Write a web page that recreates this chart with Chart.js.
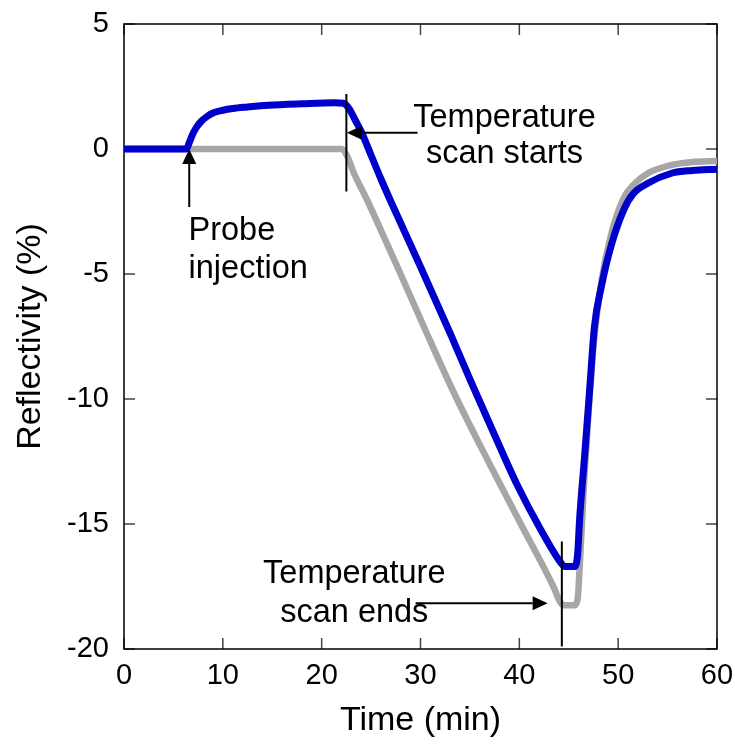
<!DOCTYPE html>
<html>
<head>
<meta charset="utf-8">
<script src="https://cdn.jsdelivr.net/npm/chart.js@4/dist/chart.umd.min.js"></script>
<style>
  html, body { margin: 0; padding: 0; background: #fff; }
</style>
</head>
<body>
<canvas id="chart" width="735" height="744"></canvas>
<script>
// data
const xTicks = [0, 10, 20, 30, 40, 50, 60];
const yTicks = [-20, -15, -10, -5, 0, 5];

// blue trace (with probe)
const blueTime = [0, 6.3, 6.6, 6.9, 7.3, 7.8, 8.4, 9.0, 10, 11, 12.5, 14.6, 18, 21.3, 22.2, 22.8, 23.4, 24.0, 25.0, 26.0, 27.0, 28.0,
  30.0, 33.0, 35.1, 37.45, 39.8, 42.2, 44.2, 44.6, 45.6, 45.9, 46.1, 46.6, 47.1, 47.6, 48.3, 49.3, 50.6, 51.5, 53.0, 55.4, 57.5, 60];
const blueRefl = [0, 0, 0.25, 0.55, 0.85, 1.1, 1.3, 1.44, 1.55, 1.62, 1.68, 1.75, 1.81, 1.85, 1.83, 1.6, 1.15, 0.7, -0.25, -1.2, -2.1, -2.97,
  -4.71, -7.37, -9.3, -11.4, -13.45, -15.25, -16.55, -16.7, -16.7, -16.2, -14.8, -12.3, -9.7, -7.1, -5.5, -3.85, -2.4, -1.8, -1.37, -0.97, -0.86, -0.81];

// grey trace (reference)
const greyTime = [0, 22.0, 22.6, 23.3, 24.6, 26.6, 27.66, 30.5, 33.5, 36.8, 40.15, 43.5, 44.1, 44.5, 45.6, 45.9,
  46.2, 46.6, 47.1, 47.6, 48.3, 49.3, 50.5, 51.5, 53, 55.4, 57.5, 60];
const greyRefl = [0, 0, -0.3, -1.0, -2.04, -3.78, -4.71, -7.25, -9.85, -12.45, -15.0, -17.55, -18.1, -18.25, -18.25, -18.0,
  -16.0, -13.0, -10.0, -7.5, -5.3, -3.4, -2.0, -1.45, -0.97, -0.64, -0.52, -0.48];

// annotations (data coordinates)
const markLines = [
  {x: 22.5, y1: 2.2, y2: -1.7},
  {x: 44.3, y1: -15.7, y2: -19.9}
];
const arrows = [
  {from: [6.6, -2.32], to: [6.6, 0]},
  {from: [29.7, 0.65], to: [22.55, 0.65]},
  {from: [29.5, -18.17], to: [42.86, -18.17]}
];
const notes = [
  {text: ['Probe', 'injection'], x: 6.53, y: [-3.64, -5.16], align: 'left'},
  {text: ['Temperature', 'scan starts'], x: 38.5, y: [0.89, -0.56], align: 'center'},
  {text: ['Temperature', 'scan ends'], x: 23.3, y: [-17.36, -18.91], align: 'center'}
];

const FONT = "'Liberation Sans', Arial, sans-serif";

function toPoints(xs, ys) {
  return xs.map((t, i) => ({x: t, y: ys[i]}));
}

const frameTicks = {
  id: 'frameTicks',
  beforeDatasetsDraw(chart) {
    const {ctx, chartArea: a, scales: {x, y}} = chart;
    ctx.save();
    ctx.strokeStyle = '#444';
    ctx.lineWidth = 1.5;
    ctx.beginPath();
    xTicks.forEach(v => {
      const px = x.getPixelForValue(v);
      ctx.moveTo(px, a.bottom); ctx.lineTo(px, a.bottom - 11);
      ctx.moveTo(px, a.top); ctx.lineTo(px, a.top + 11);
    });
    yTicks.forEach(v => {
      const py = y.getPixelForValue(v);
      ctx.moveTo(a.left, py); ctx.lineTo(a.left + 11, py);
      ctx.moveTo(a.right, py); ctx.lineTo(a.right - 11, py);
    });
    ctx.stroke();
    ctx.strokeStyle = '#000';
    ctx.strokeRect(a.left, a.top, a.right - a.left, a.bottom - a.top);
    ctx.restore();
  },
  afterDatasetsDraw(chart) {
    const {ctx, scales: {x, y}} = chart;
    ctx.save();
    ctx.strokeStyle = '#000';
    ctx.fillStyle = '#000';
    ctx.lineWidth = 2;
    // marker lines
    markLines.forEach(m => {
      const px = x.getPixelForValue(m.x);
      ctx.beginPath();
      ctx.moveTo(px, y.getPixelForValue(m.y1));
      ctx.lineTo(px, y.getPixelForValue(m.y2));
      ctx.stroke();
    });
    // arrows
    arrows.forEach(ar => {
      const x1 = x.getPixelForValue(ar.from[0]), y1 = y.getPixelForValue(ar.from[1]);
      const x2 = x.getPixelForValue(ar.to[0]), y2 = y.getPixelForValue(ar.to[1]);
      const ang = Math.atan2(y2 - y1, x2 - x1);
      const len = 15, half = 7;
      const bx = x2 - len * Math.cos(ang), by = y2 - len * Math.sin(ang);
      ctx.beginPath();
      ctx.moveTo(x1, y1);
      ctx.lineTo(bx, by);
      ctx.stroke();
      ctx.beginPath();
      ctx.moveTo(x2, y2);
      ctx.lineTo(bx + half * Math.sin(ang), by - half * Math.cos(ang));
      ctx.lineTo(bx - half * Math.sin(ang), by + half * Math.cos(ang));
      ctx.closePath();
      ctx.fill();
    });
    // text
    ctx.font = '32.5px ' + FONT;
    ctx.textBaseline = 'alphabetic';
    notes.forEach(n => {
      ctx.textAlign = n.align;
      n.text.forEach((t, i) => {
        ctx.fillText(t, x.getPixelForValue(n.x), y.getPixelForValue(n.y[i]));
      });
    });
    ctx.restore();
  }
};

new Chart(document.getElementById('chart'), {
  type: 'line',
  data: {
    datasets: [
      {
        label: 'Probe',
        data: toPoints(blueTime, blueRefl),
        borderColor: '#0000CC',
        borderWidth: 7,
        cubicInterpolationMode: 'monotone'
      },
      {
        label: 'Reference',
        data: toPoints(greyTime, greyRefl),
        borderColor: '#A6A6A6',
        borderWidth: 6.5,
        cubicInterpolationMode: 'monotone'
      }
    ]
  },
  options: {
    responsive: false,
    animation: false,
    layout: {padding: {top: 24, right: 18, left: 0, bottom: 0}},
    elements: {
      point: {radius: 0},
      line: {borderCapStyle: 'butt', borderJoinStyle: 'round'}
    },
    plugins: {legend: {display: false}, tooltip: {enabled: false}},
    scales: {
      x: {
        type: 'linear', min: 0, max: 60,
        ticks: {stepSize: 10, padding: 10, maxRotation: 0, color: '#000', font: {family: FONT, size: 29}},
        grid: {display: false, drawTicks: false},
        border: {display: false},
        title: {display: true, text: 'Time (min)', color: '#000', font: {family: FONT, size: 34}, padding: {top: 0, bottom: 3}},
        afterFit(s) { s.height = 95; s.paddingLeft = 0; s.paddingRight = 0; }
      },
      y: {
        type: 'linear', min: -20, max: 5,
        ticks: {stepSize: 5, padding: 15, color: '#000', font: {family: FONT, size: 29}},
        grid: {display: false, drawTicks: false},
        border: {display: false},
        title: {display: true, text: 'Reflectivity (%)', color: '#000', font: {family: FONT, size: 34}, padding: {top: 10, bottom: 0}},
        afterFit(s) { s.width = 124; s.paddingTop = 0; s.paddingBottom = 0; }
      }
    }
  },
  plugins: [frameTicks]
});
</script>
</body>
</html>
